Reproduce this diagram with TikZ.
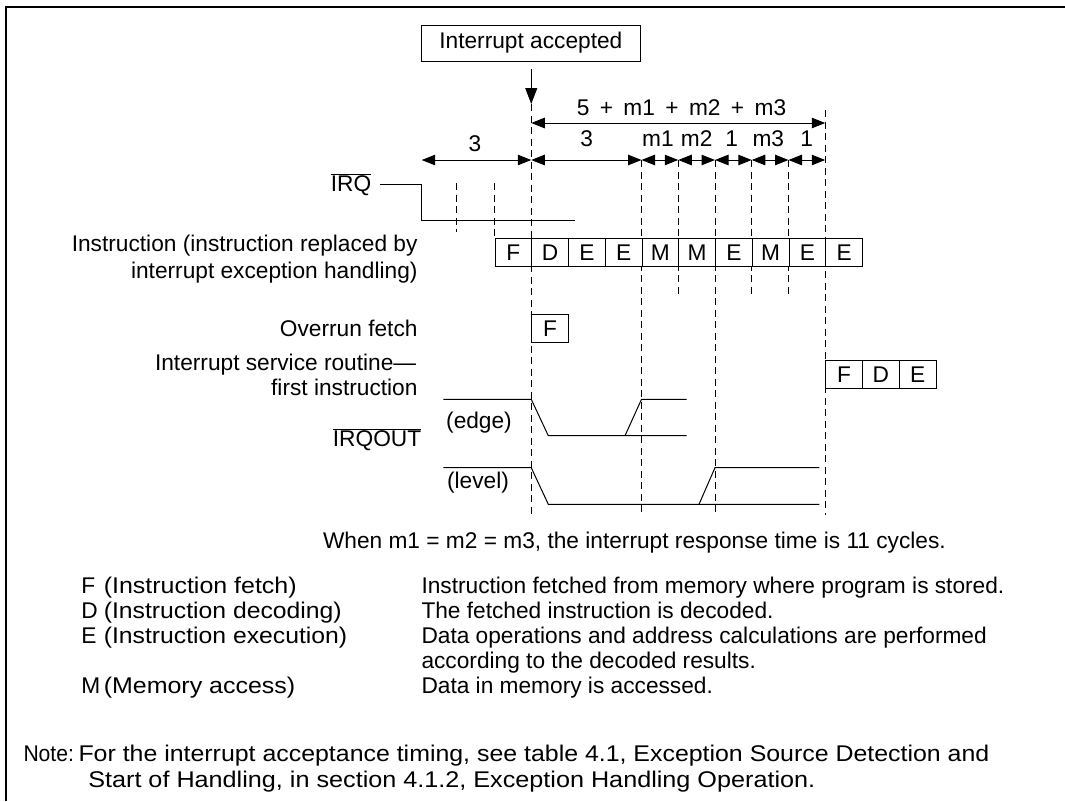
\documentclass[tikz,border=0pt]{standalone}
\usepackage{fontspec}
\setmainfont{Liberation Sans}
\usetikzlibrary{arrows.meta}
\newcommand{\wsp}{\hspace{10.4pt}}
\begin{document}
\begin{tikzpicture}[x=1pt,y=-1pt,
  font=\fontsize{22.7pt}{25pt}\selectfont,
  line width=1pt,
  txt/.style={inner sep=0pt},
  frameline/.style={line width=2.2pt},
  dsh/.style={line width=1pt, dash pattern=on 7pt off 4.5pt},
  dimarr/.style={{Triangle[length=13.5pt,width=10.5pt]}-{Triangle[length=13.5pt,width=10.5pt]}},
  cell/.style={draw, fill=white, line width=1pt, minimum width=36.75pt, minimum height=27.7pt, inner sep=0pt, anchor=north west},
  bigbox/.style={draw, line width=1pt, minimum width=218.3pt, minimum height=36pt, inner sep=0pt}
]
\useasboundingbox (0,0) rectangle (1065,801);
\def\cx{494.5}
\def\cw{36.75}
% frame
\draw[frameline] (6,801) -- (6,7.3) -- (1065,7.3);

% interrupt accepted
\node[bigbox] (ia) at (530.85,43) {Interrupt accepted};
\coordinate (iaS) at ({\cx+\cw},69);
\coordinate (iaT) at ({\cx+\cw},104);
\draw[-{Triangle[length=16pt,width=12pt]}] (iaS) -- (iaT);

% dashed verticals
\draw[dsh] (456.7,183) -- (456.7,232);
\draw[dsh] (\cx,183) -- (\cx,238.3);
\draw[dsh] (iaT) -- ({\cx+1*\cw},515);
\draw[dsh] ({\cx+4*\cw},160) -- ({\cx+4*\cw},512);
\draw[dsh] ({\cx+5*\cw},160) -- ({\cx+5*\cw},298);
\draw[dsh] ({\cx+6*\cw},160) -- ({\cx+6*\cw},512);
\draw[dsh] ({\cx+7*\cw},160) -- ({\cx+7*\cw},298);
\draw[dsh] ({\cx+8*\cw},160) -- ({\cx+8*\cw},298);
\draw[dsh] ({\cx+9*\cw},110) -- ({\cx+9*\cw},515);

% dimension arrows
\coordinate (q1) at ({\cx+1*\cw},123);
\coordinate (q9) at ({\cx+9*\cw},123);
\draw[dimarr] (q1) -- (q9);
\node[txt,anchor=base] (lsum) at (681.5,115) {5\wsp+\wsp m1\wsp+\wsp m2\wsp+\wsp m3};

\coordinate (p0) at (421.7,160);
\foreach \k in {1,4,5,6,7,8,9} \coordinate (p\k) at ({\cx+\k*\cw},160);
\draw[dimarr] (p0) -- (p1);
\draw[dimarr] (p1) -- (p4);
\draw[dimarr] (p4) -- (p5);
\draw[dimarr] (p5) -- (p6);
\draw[dimarr] (p6) -- (p7);
\draw[dimarr] (p7) -- (p8);
\draw[dimarr] (p8) -- (p9);
\node[txt,anchor=base] (l3a) at (475,151.7) {3};
\node[txt,anchor=base] (l3b) at (586.7,146.7) {3};
\node[txt,anchor=base] (lm1) at (658,146.7) {m1};
\node[txt,anchor=base] (lm2) at (696.7,146.7) {m2};
\node[txt,anchor=base] (l1a) at (731.7,146.7) {1};
\node[txt,anchor=base] (lm3) at (768.3,146.7) {m3};
\node[txt,anchor=base] (l1b) at (806.7,146.7) {1};

% IRQ
\node[txt,anchor=base east] (irq) at (371.7,191.7) {$\overline{\hbox{IRQ}}$};
\draw (380,184) -- (421.7,184) -- (421.7,220.7) -- (575,220.7);

% instruction cells
\foreach \l [count=\i] in {F,D,E,E,M,M,E,M,E,E}
  \node[cell] (c\i) at ({\cx+(\i-1)*\cw},238.3) {\l};

% overrun fetch
\node[cell] (of) at ({\cx+\cw},314) {F};

% ISR first instruction
\foreach \l [count=\i] in {F,D,E}
  \node[cell] (s\i) at ({\cx+(8+\i)*\cw},360) {\l};

% left labels
\node[txt,anchor=base east] (lab1) at (418,251.7) {Instruction (instruction replaced by};
\node[txt,anchor=base east] (lab2) at (418,278.3) {interrupt exception handling)};
\node[txt,anchor=base east] (lab3) at (418,336) {Overrun fetch};
\node[txt,anchor=base east] (lab4) at (416.7,370) {Interrupt service routine—};
\node[txt,anchor=base east] (lab5) at (418,395) {first instruction};
\node[txt,anchor=base east] (irqout) at (421.7,446.7) {$\overline{\hbox{IRQOUT}}$};
\node[txt,anchor=base] (edge) at (479,428.3) {(edge)};
\node[txt,anchor=base] (level) at (478,488.3) {(level)};

% IRQOUT edge waveform
\draw (443.3,399.3) -- (531.25,399.3) -- (548.3,435.7) -- (686.7,435.7);
\draw (625,435.7) -- (641.5,399.3) -- (686.7,399.3);
% IRQOUT level waveform
\draw (443.3,467.7) -- (531.25,467.7) -- (548.3,504.3) -- (819.3,504.3);
\draw (699,504.3) -- (715,467.7) -- (819.3,467.7);

% response time note
\node[txt,anchor=base west] (resp) at (322.5,548.3) {When m1 = m2 = m3, the interrupt response time is 11 cycles.};

% legend
\node[txt,anchor=base west] (kF) at (80.9,593) {F};
\node[txt,anchor=base west] (kD) at (80.9,618) {D};
\node[txt,anchor=base west] (kE) at (80.9,643) {E};
\node[txt,anchor=base west] (kM) at (80.9,693.3) {M};
\node[txt,anchor=base west] (nF) at (103.3,593) {\scalebox{1.1}[1]{(Instruction fetch)}};
\node[txt,anchor=base west] (nD) at (103.3,618) {\scalebox{1.09}[1]{(Instruction decoding)}};
\node[txt,anchor=base west] (nE) at (103.3,643) {\scalebox{1.09}[1]{(Instruction execution)}};
\node[txt,anchor=base west] (nM) at (103.3,693.3) {\scalebox{1.1}[1]{(Memory access)}};
\node[txt,anchor=base west] (dF) at (421,593) {Instruction fetched from memory where program is stored.};
\node[txt,anchor=base west] (dD) at (421,618) {The fetched instruction is decoded.};
\node[txt,anchor=base west] (dE) at (421,643) {Data operations and address calculations are performed};
\node[txt,anchor=base west] (dE2) at (421,668) {according to the decoded results.};
\node[txt,anchor=base west] (dM) at (421,693.3) {Data in memory is accessed.};

% note
\node[txt,anchor=base west] (note) at (23,761.5) {\scalebox{0.93}[1]{Note:}};
\node[txt,anchor=base west] (note1) at (78,761.5) {\scalebox{1.097}[1]{For the interrupt acceptance timing, see table 4.1, Exception Source Detection and}};
\node[txt,anchor=base west] (note2) at (87.8,787) {\scalebox{1.11}[1]{Start of Handling, in section 4.1.2, Exception Handling Operation.}};
\end{tikzpicture}
\end{document}
